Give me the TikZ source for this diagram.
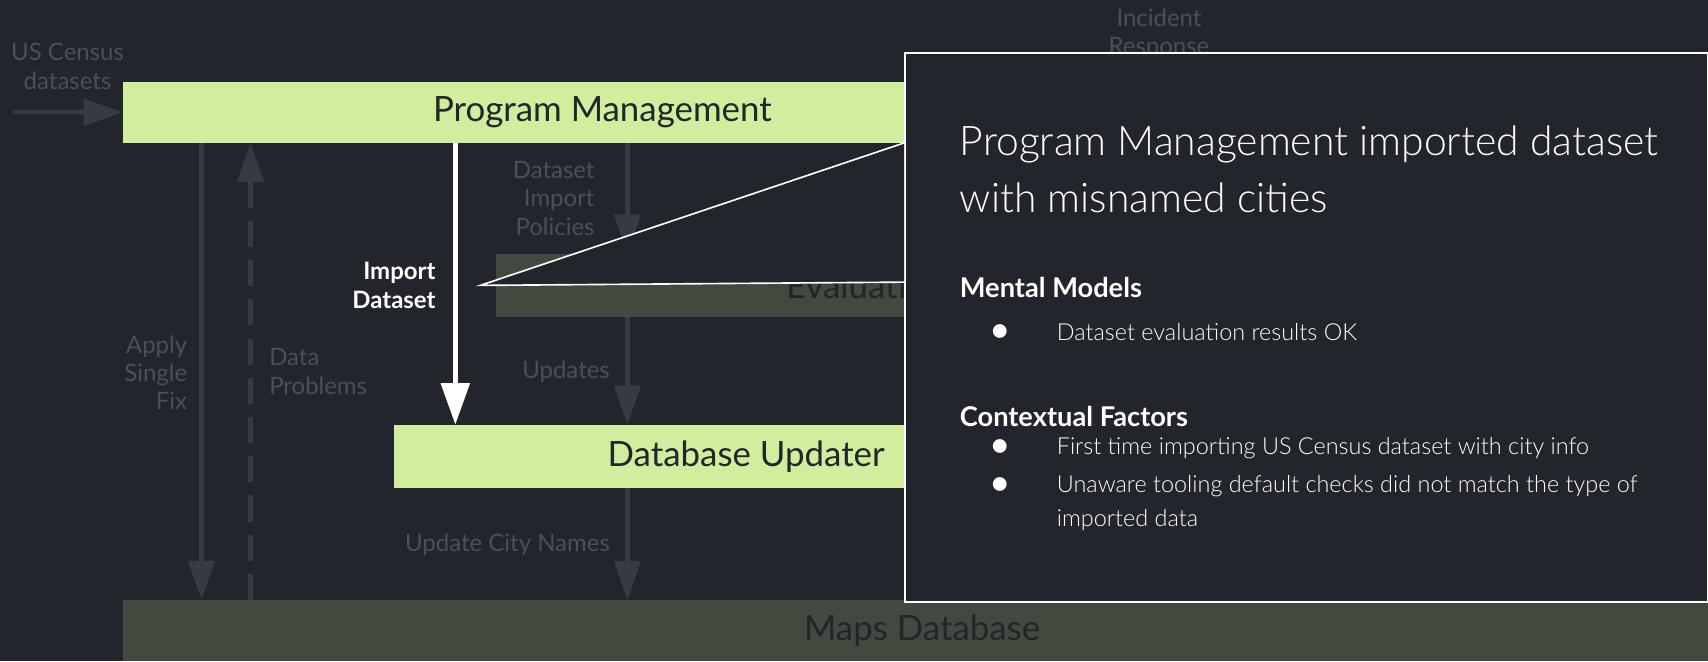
\documentclass[tikz,border=0pt]{standalone}
\usepackage{fontspec}
\setmainfont{Lato}
\newfontfamily\lightfont{Lato Light}
\usetikzlibrary{arrows.meta}
\definecolor{bgdark}{HTML}{22252C}
\definecolor{boxgreen}{HTML}{D0EE9E}
\definecolor{boxolive}{HTML}{42493F}
\definecolor{flowgray}{HTML}{363A43}
\definecolor{labelgray}{HTML}{4A4F58}
\definecolor{inktext}{HTML}{22262B}
\tikzset{font=\fontsize{22}{26}\selectfont}

\begin{document}
\begin{tikzpicture}[x=1pt,y=-1pt,every node/.style={inner sep=0pt},
    greenbox/.style={fill=boxgreen,text=inktext,font=\fontsize{32}{36}\selectfont},
    olivebox/.style={fill=boxolive,text=inktext,font=\fontsize{32}{36}\selectfont},
    flow/.style={draw=flowgray,line width=4pt,-{Triangle[width=24pt,length=36pt]}},
    importflow/.style={draw=white,line width=4pt,-{Triangle[width=26pt,length=38pt]}},
    flowlabel/.style={text=labelgray,font=\fontsize{22}{26}\selectfont},
    notetext/.style={text=white,font=\lightfont\fontsize{21.5}{31}\selectfont},
    notedot/.style={text=white,font=\fontsize{34}{34}\selectfont},
    notehead/.style={text=white,font=\bfseries\fontsize{25}{28}\selectfont}]
      \fill[bgdark] (0,0) rectangle (1568,607);
      \useasboundingbox (0,0) rectangle (1568,607);

      \node[greenbox,minimum width=880pt,minimum height=56pt] (PM) at (553,103) {Program Management};
      \node[olivebox,minimum width=680pt,minimum height=58pt] (Eval) at (795,262) {Evaluation};
      \node[greenbox,minimum width=646pt,minimum height=58pt] (DBU) at (685,419) {Database Updater};
      \node[olivebox,minimum width=1467pt,minimum height=56pt] (Maps) at (846.5,579) {Maps Database};

      \coordinate (censusIn) at (12,103);
      \coordinate (fixX) at (185,0);
      \coordinate (probX) at (230,0);
      \coordinate (impX) at (418,0);
      \coordinate (polX) at (576,0);

      \node[flowlabel,align=center] (censusL) at (62,61) {US Census\\datasets};
      \node[flowlabel,align=center] (incidentL) at (1064,31) {Incident\\Response};
      \node[flowlabel,align=right,anchor=east] (fixL) at (172,342) {Apply\\Single\\Fix};
      \node[flowlabel,align=left,anchor=west] (probL) at (247,341) {Data\\Problems};
      \node[flowlabel,align=right,anchor=east] (polL) at (546,182) {Dataset\\Import\\Policies};
      \node[flowlabel,anchor=east] (updL) at (560,341) {Updates};
      \node[flowlabel,anchor=east] (cityL) at (560,500) {Update City Names};
      \node[text=white,font=\bfseries\fontsize{22}{26}\selectfont,align=right,anchor=east] (impL) at (400,262) {Import\\Dataset};

      \path[flow] (censusIn) -- (PM.west);
      \path[flow] (PM.south -| fixX) -- (Maps.north -| fixX);
      \path[flow,dash pattern=on 24pt off 12pt] (Maps.north -| probX) -- (PM.south -| probX);
      \path[flow] (PM.south -| polX) -- (Eval.north -| polX);
      \path[flow] (Eval.south -| polX) -- (DBU.north -| polX);
      \path[flow] (DBU.south -| polX) -- (Maps.north -| polX);
      \path[importflow] (PM.south -| impX) -- (DBU.north -| impX);

      % callout
      \coordinate (tip) at (441,262);
      \coordinate (tipBot) at (830,259);
      \node[draw=white,line width=1.5pt,fill=bgdark,minimum width=737pt,minimum height=504pt,anchor=north west] (note) at (830,48) {};
      \fill[bgdark] (tip) -- (note.west |- PM.south) -- (tipBot) -- cycle;
      \draw[white,line width=1.5pt] (note.west |- PM.south) -- (tip) -- (tipBot);

      \node[text=white,font=\lightfont\fontsize{37.5}{53}\selectfont,align=left,anchor=north west] (title) at (881,115) {Program Management imported dataset\\with misnamed cities};
      \node[notehead,anchor=west] (mental) at (881,264) {Mental Models};
      \node[notedot] (b1) at (918,306) {\textbullet};
      \node[notetext,anchor=west] (m1) at (970,305) {Dataset evaluation results OK};
      \node[notehead,anchor=west] (context) at (881,382) {Contextual Factors};
      \node[notedot] (b2) at (918,412) {\textbullet};
      \node[notetext,anchor=west] (c1) at (970,411) {First time importing US Census dataset with city info};
      \node[notedot] (b3) at (918,447) {\textbullet};
      \node[notetext,align=left,anchor=west] (c2) at (970,461.5) {Unaware tooling default checks did not match the type of\\imported data};
\end{tikzpicture}
\end{document}
